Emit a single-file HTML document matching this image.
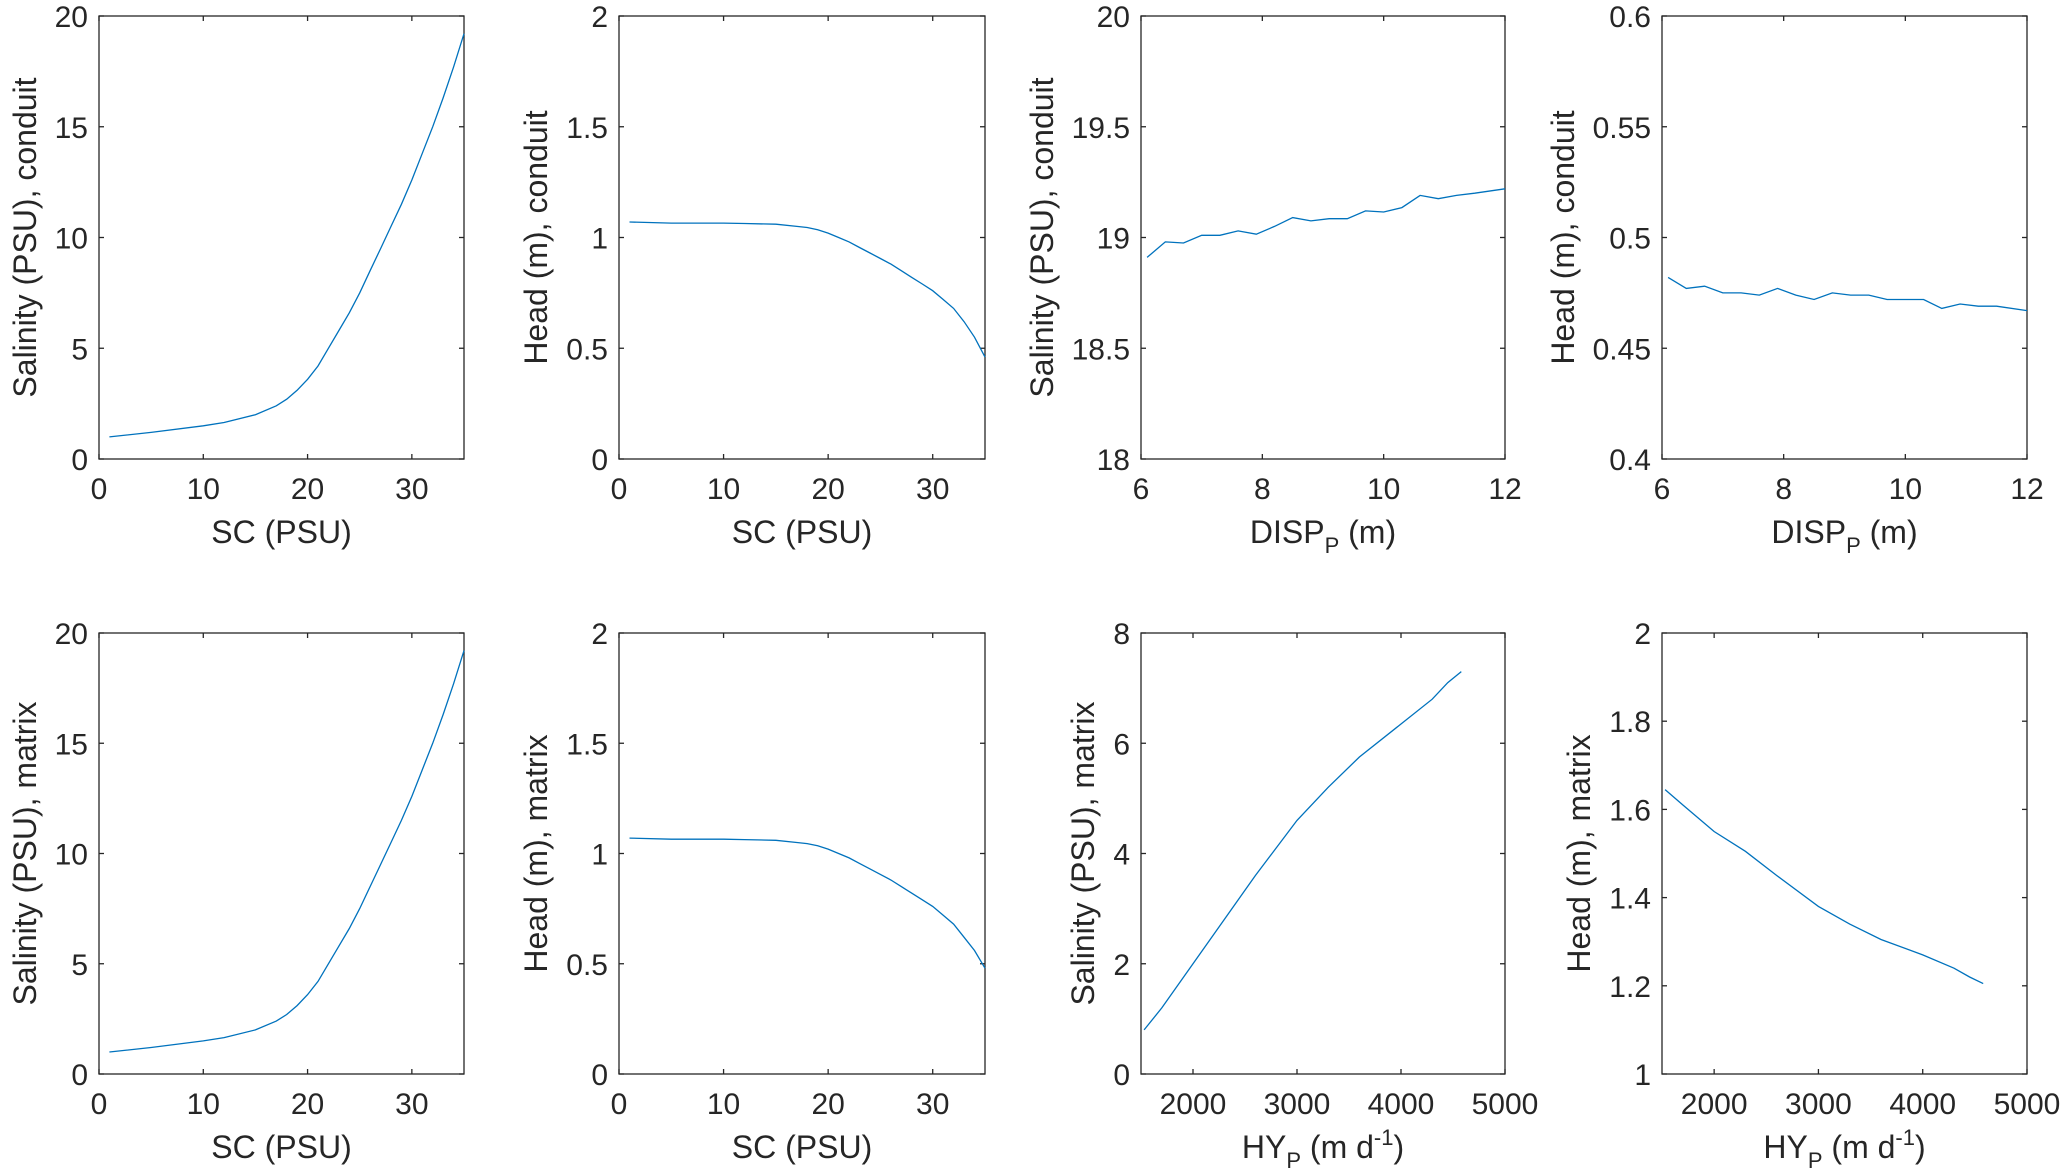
<!DOCTYPE html>
<html><head><meta charset="utf-8"><style>
body{margin:0;background:#fff;}
svg{display:block;font-family:"Liberation Sans",sans-serif;}
</style></head><body>
<svg id="fig" width="2067" height="1176" xmlns="http://www.w3.org/2000/svg"></svg>
<script>
const scX=[1,5,10,12,15,17,18,19,20,21,22,23,24,25,26,27,28,29,30,31,32,33,34,35];
const salC=[1.0,1.2,1.5,1.65,2.0,2.4,2.7,3.1,3.6,4.2,5.0,5.8,6.6,7.5,8.5,9.5,10.5,11.5,12.6,13.8,15.0,16.3,17.7,19.2];
const salM=[1.0,1.2,1.5,1.65,2.0,2.4,2.7,3.1,3.6,4.2,5.0,5.8,6.6,7.5,8.5,9.5,10.5,11.5,12.6,13.8,15.0,16.3,17.7,19.2];
const headC=[1.07,1.065,1.065,1.063,1.06,1.05,1.045,1.035,1.02,1.0,0.98,0.955,0.93,0.905,0.88,0.85,0.82,0.79,0.76,0.72,0.68,0.62,0.55,0.46];
const headM=[1.07,1.065,1.065,1.063,1.06,1.05,1.045,1.035,1.02,1.0,0.98,0.955,0.93,0.905,0.88,0.85,0.82,0.79,0.76,0.72,0.68,0.62,0.56,0.48];
const dispX=[6.1,6.4,6.7,7.0,7.3,7.6,7.9,8.2,8.5,8.8,9.1,9.4,9.7,10.0,10.3,10.6,10.9,11.2,11.5,12.0];
const dispSal=[18.91,18.98,18.975,19.01,19.01,19.03,19.015,19.05,19.09,19.075,19.085,19.085,19.12,19.115,19.135,19.19,19.175,19.19,19.2,19.22];
const dispHead=[0.482,0.477,0.478,0.475,0.475,0.474,0.477,0.474,0.472,0.475,0.474,0.474,0.472,0.472,0.472,0.468,0.470,0.469,0.469,0.467];
const hyX=[1530,1700,2000,2300,2600,3000,3300,3600,4000,4300,4450,4580];
const hySal=[0.8,1.2,2.0,2.8,3.6,4.6,5.2,5.75,6.35,6.8,7.1,7.3];
const hyHead=[1.645,1.61,1.55,1.505,1.45,1.38,1.34,1.305,1.27,1.24,1.22,1.205];

const scTicks=[0,10,20,30];
const dispTicks=[6,8,10,12];
const hyTicks=[2000,3000,4000,5000];
const sal20=[0,5,10,15,20];
const head2=[0,0.5,1,1.5,2];
const dispSalT=[18,18.5,19,19.5,20];
const dispHeadT=[0.4,0.45,0.5,0.55,0.6];
const hySalT=[0,2,4,6,8];
const hyHeadT=[1,1.2,1.4,1.6,1.8,2];

const NS="http://www.w3.org/2000/svg";
const svg=document.getElementById('fig');
function mk(tag,attrs,parent){const e=document.createElementNS(NS,tag);for(const k in attrs)e.setAttribute(k,attrs[k]);(parent||svg).appendChild(e);return e;}

const cols=[[99,464],[619,985],[1141,1505],[1662,2027]];
const rows=[[16,459],[633,1074]];
const panels=[
 {r:0,c:0,x:scX,y:salC,xd:[0,35],yd:[0,20],xt:scTicks,yt:sal20,xl:'SC (PSU)',yl:'Salinity (PSU), conduit',name:'salinity-conduit-vs-sc',off:63},
 {r:0,c:1,x:scX,y:headC,xd:[0,35],yd:[0,2],xt:scTicks,yt:head2,xl:'SC (PSU)',yl:'Head (m), conduit',name:'head-conduit-vs-sc',off:72},
 {r:0,c:2,x:dispX,y:dispSal,xd:[6,12],yd:[18,20],xt:dispTicks,yt:dispSalT,xl:'disp',yl:'Salinity (PSU), conduit',name:'salinity-conduit-vs-disp',off:88},
 {r:0,c:3,x:dispX,y:dispHead,xd:[6,12],yd:[0.4,0.6],xt:dispTicks,yt:dispHeadT,xl:'disp',yl:'Head (m), conduit',name:'head-conduit-vs-disp',off:88},
 {r:1,c:0,x:scX,y:salM,xd:[0,35],yd:[0,20],xt:scTicks,yt:sal20,xl:'SC (PSU)',yl:'Salinity (PSU), matrix',name:'salinity-matrix-vs-sc',off:63},
 {r:1,c:1,x:scX,y:headM,xd:[0,35],yd:[0,2],xt:scTicks,yt:head2,xl:'SC (PSU)',yl:'Head (m), matrix',name:'head-matrix-vs-sc',off:72},
 {r:1,c:2,x:hyX,y:hySal,xd:[1500,5000],yd:[0,8],xt:hyTicks,yt:hySalT,xl:'hy',yl:'Salinity (PSU), matrix',name:'salinity-matrix-vs-hy',off:47},
 {r:1,c:3,x:hyX,y:hyHead,xd:[1500,5000],yd:[1,2],xt:hyTicks,yt:hyHeadT,xl:'hy',yl:'Head (m), matrix',name:'head-matrix-vs-hy',off:72},
];
panels.forEach(p=>{
 const [L,R]=cols[p.c],[T,B]=rows[p.r];
 const g=mk('g',{});
 
 
 const sx=v=>L+(v-p.xd[0])/(p.xd[1]-p.xd[0])*(R-L);
 const sy=v=>B-(v-p.yd[0])/(p.yd[1]-p.yd[0])*(B-T);
 const box=mk('rect',{x:L,y:T,width:R-L,height:B-T,fill:'none',stroke:'#262626','stroke-width':1.3},g);
 
 
 p.xt.forEach(t=>{const x=sx(t);
  mk('line',{x1:x,x2:x,y1:B,y2:B-5,stroke:'#262626','stroke-width':1.3},g);
  mk('line',{x1:x,x2:x,y1:T,y2:T+5,stroke:'#262626','stroke-width':1.3},g);
  const tx=mk('text',{x:x,y:B+40,'font-size':30,'text-anchor':'middle',fill:'#262626'},g);tx.textContent=t;
  
  
 });
 p.yt.forEach(t=>{const y=sy(t);
  mk('line',{x1:L,x2:L+5,y1:y,y2:y,stroke:'#262626','stroke-width':1.3},g);
  mk('line',{x1:R,x2:R-5,y1:y,y2:y,stroke:'#262626','stroke-width':1.3},g);
  const tx=mk('text',{x:L-11,y:y+11,'font-size':30,'text-anchor':'end',fill:'#262626'},g);tx.textContent=t;
  
  
 });
 const xl=mk('text',{x:(L+R)/2,y:B+84,'font-size':32,'text-anchor':'middle',fill:'#262626'},g);
 
 
 if(p.xl==='disp'){
  xl.appendChild(document.createTextNode('DISP'));
  const s=mk('tspan',{'font-size':22,dy:10},xl);s.textContent='P';
  const r=mk('tspan',{dy:-10},xl);r.textContent=' (m)';
 }else if(p.xl==='hy'){
  xl.appendChild(document.createTextNode('HY'));
  const s=mk('tspan',{'font-size':22,dy:10},xl);s.textContent='P';
  const r=mk('tspan',{dy:-10},xl);r.textContent=' (m d';
  const s2=mk('tspan',{'font-size':22,dy:-13},xl);s2.textContent='-1';
  const r2=mk('tspan',{dy:13},xl);r2.textContent=')';
 }else xl.textContent=p.xl;
 const yx=L-p.off;
 const yl=mk('text',{x:yx,y:(T+B)/2,'font-size':32,'text-anchor':'middle',fill:'#262626',transform:`rotate(-90 ${yx} ${(T+B)/2})`},g);
 yl.textContent=p.yl;
 
 
 const d=p.x.map((v,i)=>(i?'L':'M')+sx(v).toFixed(1)+' '+sy(p.y[i]).toFixed(1)).join(' ');
 const ln=mk('path',{d:d,fill:'none',stroke:'#0072BD','stroke-width':1.3},g);
 
 
});
</script>
</body></html>
